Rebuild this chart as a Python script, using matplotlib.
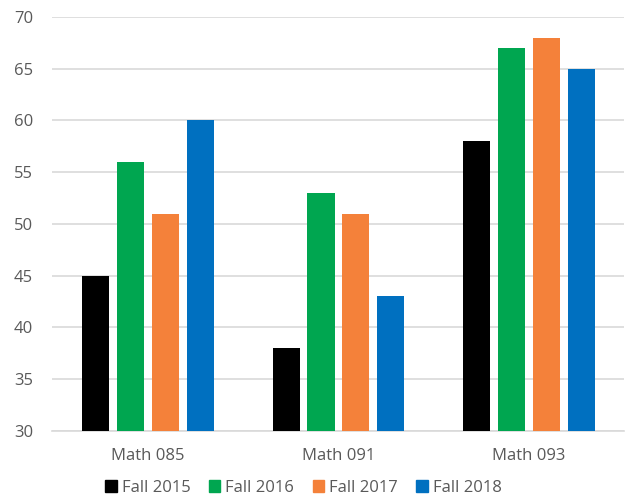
import numpy as np
import matplotlib.pyplot as plt
from matplotlib.patches import Patch

plt.rcParams['font.family'] = ['Open Sans', 'DejaVu Sans']

courses = ['Math 085', 'Math 091', 'Math 093']
terms = ['Fall 2015', 'Fall 2016', 'Fall 2017', 'Fall 2018']
fall_2015 = [45, 38, 58]
fall_2016 = [56, 53, 67]
fall_2017 = [51, 51, 68]
fall_2018 = [60, 43, 65]

series = [fall_2015, fall_2016, fall_2017, fall_2018]
colors = ['#000000', '#00A650', '#F4813A', '#0070C0']
text_col = '#595959'

fig = plt.figure(figsize=(6.32, 5.01), dpi=100)
ax = fig.add_axes([0.083, 0.14, 0.905, 0.826])

x = np.arange(len(courses))
w = 0.142
step = 0.183
for i, (vals, c) in enumerate(zip(series, colors)):
    ax.bar(x + (i - 1.5) * step, vals, width=w, color=c, zorder=3)

ax.set_ylim(30, 70)
ax.set_yticks(range(30, 71, 5))
ax.set_xlim(-0.5, 2.5)
ax.set_xticks(x)
ax.set_xticklabels(courses)
ax.yaxis.grid(True, color='#D9D9D9', linewidth=1.2, zorder=0)
for s in ['top', 'right', 'left']:
    ax.spines[s].set_visible(False)
ax.spines['bottom'].set_color('#D9D9D9')
ax.spines['bottom'].set_linewidth(1.2)
ax.tick_params(axis='both', length=0, labelsize=12, colors=text_col)
ax.tick_params(axis='x', pad=12)
ax.tick_params(axis='y', pad=14)

handles = [Patch(color=c) for c in colors]
fig.legend(handles, terms, loc='lower center', ncol=4, frameon=False,
           bbox_to_anchor=(0.48, -0.02), fontsize=12, labelcolor=text_col,
           handlelength=0.7, handleheight=0.7, handletextpad=0.3, columnspacing=1.1)

fig.savefig('out.png', dpi=100)
